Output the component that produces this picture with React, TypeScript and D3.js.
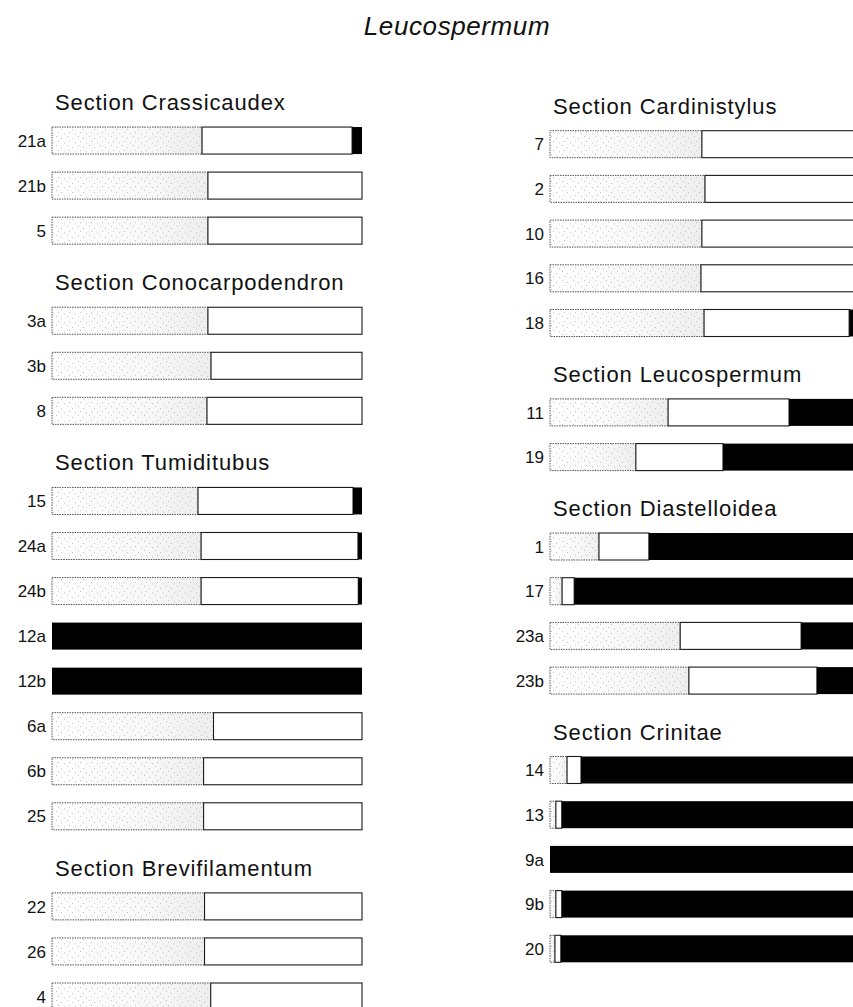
import { useEffect, useRef } from "react";
import * as d3 from "d3";

// --- data (percent of each bar) ------------------------------------------
const TITLE = "Leucospermum";

const leftSections = [
  "Section Crassicaudex",
  "Section Conocarpodendron",
  "Section Tumiditubus",
  "Section Brevifilamentum",
];
const leftSectionStart = [0, 3, 6, 14];
const leftTaxa = ["21a", "21b", "5", "3a", "3b", "8", "15", "24a", "24b", "12a", "12b", "6a", "6b", "25", "22", "26", "4"];
const leftStipple = [48.4, 50.3, 50.3, 50.3, 51.3, 50.0, 47.1, 48.1, 48.1, 0, 0, 52.1, 48.9, 48.9, 49.2, 49.2, 51.2];
const leftWhite = [48.4, 49.7, 49.7, 49.7, 48.7, 50.0, 50.0, 50.6, 50.7, 0, 0, 47.9, 51.1, 51.1, 50.8, 50.8, 48.8];
const leftBlack = [3.2, 0, 0, 0, 0, 0, 2.9, 1.3, 1.2, 100, 100, 0, 0, 0, 0, 0, 0];

const rightSections = [
  "Section Cardinistylus",
  "Section Leucospermum",
  "Section Diastelloidea",
  "Section Crinitae",
];
const rightSectionStart = [0, 5, 7, 11];
const rightTaxa = ["7", "2", "10", "16", "18", "11", "19", "1", "17", "23a", "23b", "14", "13", "9a", "9b", "20"];
const rightStipple = [49.0, 50.0, 49.0, 48.7, 49.7, 38.1, 27.7, 15.8, 3.9, 42.0, 44.8, 5.5, 1.9, 0, 1.9, 1.6];
const rightWhite = [51.0, 50.0, 51.0, 51.3, 46.8, 39.0, 28.1, 16.1, 3.9, 39.0, 41.3, 4.5, 1.9, 0, 1.9, 1.9];
const rightBlack = [0, 0, 0, 0, 3.5, 22.9, 44.2, 68.1, 92.2, 19.0, 13.9, 90.0, 96.2, 100, 96.2, 96.5];

const KEYS = ["stipple", "white", "black"];

const W = 853;
const H = 1007;
const BAR_H = 27;
const FONT = "'Liberation Sans', Arial, Helvetica, sans-serif";

interface Column {
  sections: string[];
  sectionStart: number[];
  taxa: string[];
  stipple: number[];
  white: number[];
  black: number[];
  xRange: [number, number];
  firstSlotTop: number;
  pitch: number;
}

const columns: Column[] = [
  {
    sections: leftSections,
    sectionStart: leftSectionStart,
    taxa: leftTaxa,
    stipple: leftStipple,
    white: leftWhite,
    black: leftBlack,
    xRange: [52, 362],
    firstSlotTop: 82,
    pitch: 45.05,
  },
  {
    sections: rightSections,
    sectionStart: rightSectionStart,
    taxa: rightTaxa,
    stipple: rightStipple,
    white: rightWhite,
    black: rightBlack,
    xRange: [550, 860],
    firstSlotTop: 86,
    pitch: 44.7,
  },
];

interface Row {
  taxon: string;
  slot: number;
  stipple: number;
  white: number;
  black: number;
}

export default function App() {
  const svgRef = useRef<SVGSVGElement>(null);

  useEffect(() => {
    const svgEl = svgRef.current;
    if (!svgEl) return;
    const svg = d3.select(svgEl);
    svg.selectAll("*").remove();

    // --- stipple texture: faint gradient (denser to the right) + dot tile --
    const defs = svg.append("defs");
    const grad = defs
      .append("linearGradient")
      .attr("id", "stipple-grad")
      .attr("x1", 0)
      .attr("x2", 1)
      .attr("y1", 0)
      .attr("y2", 0);
    grad.append("stop").attr("offset", 0).attr("stop-color", "#ffffff");
    grad.append("stop").attr("offset", 0.6).attr("stop-color", "#f8f8f8");
    grad.append("stop").attr("offset", 1).attr("stop-color", "#eeeeee");

    const pat = defs
      .append("pattern")
      .attr("id", "stipple-dots")
      .attr("patternUnits", "userSpaceOnUse")
      .attr("width", 11)
      .attr("height", 9);
    const dots: [number, number][] = [[1, 1], [6, 3], [3, 6], [9, 7.5]];
    pat
      .selectAll("rect")
      .data(dots)
      .enter()
      .append("rect")
      .attr("x", (d) => d[0])
      .attr("y", (d) => d[1])
      .attr("width", 0.9)
      .attr("height", 0.9)
      .attr("fill", "#b5b5b5");

    // --- title ------------------------------------------------------------
    svg
      .append("text")
      .attr("x", 457)
      .attr("y", 35)
      .attr("text-anchor", "middle")
      .attr("font-family", FONT)
      .attr("font-style", "italic")
      .attr("font-size", 26)
      .attr("letter-spacing", "0.6px")
      .attr("fill", "#111")
      .text(TITLE);

    columns.forEach((col) => {
      const x = d3.scaleLinear().domain([0, 100]).range(col.xRange);
      const slotCount = col.taxa.length + col.sections.length;
      const y = d3
        .scaleLinear()
        .domain([0, slotCount - 1])
        .range([col.firstSlotTop, col.firstSlotTop + (slotCount - 1) * col.pitch]);

      const slotOf = (i: number) =>
        i + col.sectionStart.filter((s) => s <= i).length;

      const table: Row[] = col.taxa.map((t, i) => ({
        taxon: t,
        slot: slotOf(i),
        stipple: col.stipple[i],
        white: col.white[i],
        black: col.black[i],
      }));

      const g = svg.append("g");

      // section headers
      g.selectAll("text.section")
        .data(col.sections)
        .enter()
        .append("text")
        .attr("class", "section")
        .attr("x", col.xRange[0] + 3)
        .attr("y", (_d, s) => y(col.sectionStart[s] + s) + 28)
        .attr("font-family", FONT)
        .attr("font-size", 22)
        .attr("letter-spacing", "0.9px")
        .attr("fill", "#111")
        .text((d) => d);

      // taxon labels
      g.selectAll("text.taxon")
        .data(table)
        .enter()
        .append("text")
        .attr("class", "taxon")
        .attr("x", col.xRange[0] - 6)
        .attr("y", (d) => y(d.slot) + BAR_H / 2)
        .attr("dy", "0.36em")
        .attr("text-anchor", "end")
        .attr("font-family", FONT)
        .attr("font-size", 17)
        .attr("fill", "#111")
        .text((d) => d.taxon);

      const stacked = d3.stack<Row>().keys(KEYS)(table);

      type Seg = d3.SeriesPoint<Row>;
      const rx = (d: Seg) => x(d[0]);
      const rw = (d: Seg) => x(d[1]) - x(d[0]);
      const ry = (d: Seg) => y(d.data.slot);

      stacked.forEach((layer) => {
        const segs = layer.filter((d) => d[1] - d[0] > 0);
        const layerG = g.append("g");

        if (layer.key === "stipple") {
          layerG
            .selectAll("rect.base")
            .data(segs)
            .enter()
            .append("rect")
            .attr("class", "base")
            .attr("x", rx)
            .attr("y", ry)
            .attr("width", rw)
            .attr("height", BAR_H)
            .attr("fill", "url(#stipple-grad)");
          layerG
            .selectAll("rect.dots")
            .data(segs)
            .enter()
            .append("rect")
            .attr("class", "dots")
            .attr("x", rx)
            .attr("y", ry)
            .attr("width", rw)
            .attr("height", BAR_H)
            .attr("fill", "url(#stipple-dots)")
            .attr("stroke", "#555")
            .attr("stroke-width", 1)
            .attr("stroke-dasharray", "1.5 1");
        } else if (layer.key === "white") {
          layerG
            .selectAll("rect")
            .data(segs)
            .enter()
            .append("rect")
            .attr("x", rx)
            .attr("y", ry)
            .attr("width", rw)
            .attr("height", BAR_H)
            .attr("fill", "#fff")
            .attr("stroke", "#1a1a1a")
            .attr("stroke-width", 1.1);
        } else {
          layerG
            .selectAll("rect")
            .data(segs)
            .enter()
            .append("rect")
            .attr("x", rx)
            .attr("y", ry)
            .attr("width", rw)
            .attr("height", BAR_H)
            .attr("fill", "#000");
        }
      });
    });
  }, []);

  return (
    <svg
      ref={svgRef}
      width={W}
      height={H}
      viewBox={`0 0 ${W} ${H}`}
      style={{ position: "absolute", left: 0, top: 0, display: "block", background: "#fff" }}
    />
  );
}
